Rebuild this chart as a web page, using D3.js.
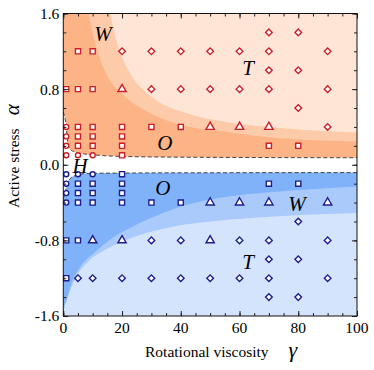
<!DOCTYPE html>
<html>
<head>
<meta charset="utf-8">
<script src="https://cdn.jsdelivr.net/npm/d3@7"></script>
<style>
  body { margin: 0; background: #fff; }
  svg { display: block; font-family: "Liberation Serif", "Times New Roman", serif; }
</style>
</head>
<body>
<div id="chart"></div>
<script>
// tick values
const gammaTicks = [0, 20, 40, 60, 80, 100];
const alphaTicks = [-1.6, -0.8, 0.0, 0.8, 1.6];

// phase boundaries as [gamma, alpha]
const upperDashed = [[0, 0.56], [0.4, 0.51], [1.0, 0.41], [1.3, 0.3], [1.6, 0.22], [2.5, 0.16], [4, 0.135],
  [7, 0.115], [12, 0.1], [20, 0.088], [40, 0.08], [70, 0.076], [100, 0.074]];
const lowerDashed = [[0, -0.36], [0.6, -0.3], [1.2, -0.22], [2, -0.16], [4, -0.115], [8, -0.092],
  [20, -0.088], [50, -0.085], [100, -0.083]];
const orangeMid = [[8.6, 1.6], [10, 1.39], [14.8, 0.95], [20, 0.75], [30, 0.54], [41.5, 0.41], [55, 0.35],
  [73.8, 0.28], [100, 0.247]];
const orangeLight = [[16, 1.6], [18, 1.32], [20, 1.14], [23, 0.956], [30, 0.72], [41.5, 0.55], [55, 0.455],
  [73.8, 0.388], [100, 0.34]];
const blueMid = [[0, -1.6], [0.7, -1.5], [2.4, -1.29], [5.8, -1.08], [10.9, -0.92], [16, -0.79], [24.5, -0.64],
  [36.4, -0.48], [53.4, -0.35], [70.4, -0.29], [87.4, -0.254], [100, -0.23]];
const blueLight = [[0, -1.6], [0.3, -1.52], [1.2, -1.43], [4.1, -1.2], [8.6, -1.02], [14.3, -0.9], [24.5, -0.76],
  [36.4, -0.66], [53.4, -0.59], [70.4, -0.55], [100, -0.51]];

// simulation points
const redSquares = [[5, 1.2], [10, 1.2], [1, 0.8], [5, 0.8], [10, 0.8], [5, 0.4], [10, 0.4], [20, 0.4], [30, 0.4],
  [40, 0.4], [5, 0.3], [10, 0.3], [20, 0.3], [5, 0.2], [10, 0.2], [20, 0.2], [70, 0.2], [80, 0.2], [20, 0.1]];
const redCircles = [[1, 0.4], [1, 0.3], [1, 0.2], [1, 0.1], [5, 0.1], [10, 0.1]];
const redTriangles = [[20, 0.8], [50, 0.4], [60, 0.4], [70, 0.4]];
const redDiamonds = [[70, 1.4], [80, 1.4], [20, 1.2], [30, 1.2], [40, 1.2], [50, 1.2], [60, 1.2], [70, 1.2], [90, 1.2],
  [70, 1.0], [80, 1.0], [30, 0.8], [40, 0.8], [50, 0.8], [60, 0.8], [70, 0.8], [90, 0.8], [80, 0.6], [90, 0.4]];
const blueCircles = [[1, -0.1], [5, -0.1], [10, -0.1], [1, -0.2], [1, -0.3], [1, -0.4]];
const blueSquares = [[20, -0.1], [5, -0.2], [10, -0.2], [20, -0.2], [70, -0.2], [80, -0.2], [5, -0.3], [10, -0.3],
  [20, -0.3], [5, -0.4], [10, -0.4], [20, -0.4], [30, -0.4], [40, -0.4], [1, -0.8], [5, -0.8], [1, -1.2]];
const blueTriangles = [[50, -0.4], [60, -0.4], [70, -0.4], [90, -0.4], [10, -0.8], [20, -0.8], [50, -0.8]];
const blueDiamonds = [[80, -0.6], [30, -0.8], [40, -0.8], [60, -0.8], [70, -0.8], [90, -0.8], [70, -1.0], [80, -1.0],
  [5, -1.2], [10, -1.2], [20, -1.2], [30, -1.2], [40, -1.2], [50, -1.2], [60, -1.2], [70, -1.2], [90, -1.2],
  [70, -1.4], [80, -1.4]];

// phase labels
const phaseNames = ["W", "T", "O", "H", "O", "W", "T"];
const phaseGamma = [13.5, 62.9, 34.6, 5.7, 33.9, 79.6, 62.9];
const phaseAlpha = [1.39, 1.024, 0.23, -0.013, -0.246, -0.415, -1.029];

const RED = "#cc1f2a", NAVY = "#1d1d8c";
const FILL = {
  oDark: "#fcb386", oMid: "#fdcba9", oLight: "#fee5d5",
  bDark: "#80b2fa", bMid: "#a9cafb", bLight: "#d4e4fc"
};

const margin = { top: 13.5, right: 17, bottom: 54, left: 63.3 };
const W = 374, H = 370;
const w = W - margin.left - margin.right;
const h = H - margin.top - margin.bottom;

const svg = d3.select("#chart").append("svg")
  .attr("width", W).attr("height", H);
const g = svg.append("g").attr("transform", `translate(${margin.left},${margin.top})`);

const x = d3.scaleLinear().domain([0, 100]).range([0, w]);
const y = d3.scaleLinear().domain([-1.6, 1.6]).range([h, 0]);

g.append("clipPath").attr("id", "clip")
  .append("rect").attr("width", w).attr("height", h);
const plot = g.append("g").attr("clip-path", "url(#clip)");

// filled regions
const areaTop = d3.area().curve(d3.curveMonotoneX)
  .x(d => x(d[0])).y0(d => y(d[1])).y1(y(1.6));
const areaBottom = d3.area().curve(d3.curveMonotoneX)
  .x(d => x(d[0])).y0(d => y(d[1])).y1(y(-1.6));

plot.append("path").datum(upperDashed).attr("fill", FILL.oDark).attr("d", areaTop);
plot.append("path").datum(orangeMid).attr("fill", FILL.oMid).attr("d", areaTop);
plot.append("path").datum(orangeLight).attr("fill", FILL.oLight).attr("d", areaTop);
plot.append("path").datum(lowerDashed).attr("fill", FILL.bDark).attr("d", areaBottom);
plot.append("path").datum(blueMid).attr("fill", FILL.bMid).attr("d", areaBottom);
plot.append("path").datum(blueLight).attr("fill", FILL.bLight).attr("d", areaBottom);

// dashed boundaries of the H region
const line = d3.line().curve(d3.curveMonotoneX).x(d => x(d[0])).y(d => y(d[1]));
[upperDashed, lowerDashed].forEach(pts => {
  plot.append("path").datum(pts)
    .attr("fill", "none").attr("stroke", "#444").attr("stroke-width", 1)
    .attr("stroke-dasharray", "4,2.5").attr("d", line);
});

// markers
const diamond = {
  draw(ctx, size) {
    const r = Math.sqrt(size / 2);
    ctx.moveTo(0, -r); ctx.lineTo(r, 0); ctx.lineTo(0, r); ctx.lineTo(-r, 0); ctx.closePath();
  }
};
const markerSets = [
  [redSquares, d3.symbolSquare, 26, RED], [redCircles, d3.symbolCircle, 20, RED],
  [redTriangles, d3.symbolTriangle, 30, RED], [redDiamonds, diamond, 22, RED],
  [blueSquares, d3.symbolSquare, 26, NAVY], [blueCircles, d3.symbolCircle, 20, NAVY],
  [blueTriangles, d3.symbolTriangle, 30, NAVY], [blueDiamonds, diamond, 22, NAVY]
];
markerSets.forEach(([pts, type, size, color]) => {
  g.append("g").selectAll("path").data(pts).join("path")
    .attr("transform", d => `translate(${x(d[0])},${y(d[1])})`)
    .attr("d", d3.symbol().type(type).size(size))
    .attr("fill", "#fff").attr("stroke", color).attr("stroke-width", 1.4);
});

// phase labels
g.append("g").selectAll("text").data(phaseNames).join("text")
  .attr("x", (d, i) => x(phaseGamma[i])).attr("y", (d, i) => y(phaseAlpha[i]))
  .attr("dy", "0.35em").attr("text-anchor", "middle")
  .attr("font-style", "italic").attr("font-size", 21).text(d => d);

// frame with inward ticks on all sides
const minorX = d3.range(0, 101, 5), minorY = d3.range(-16, 17, 2).map(v => v / 10);
const axes = [
  [d3.axisBottom(x), `translate(0,${h})`, minorX, gammaTicks],
  [d3.axisTop(x), "translate(0,0)", minorX, gammaTicks],
  [d3.axisLeft(y), "translate(0,0)", minorY, alphaTicks],
  [d3.axisRight(y), `translate(${w},0)`, minorY, alphaTicks]
];
axes.forEach(([ax, tr, minor, major]) => {
  const a = g.append("g").attr("transform", tr);
  a.call(ax.tickValues(minor).tickSize(-3).tickFormat(""));
  a.append("g").call(ax.tickValues(major).tickSize(-5).tickFormat(""));
  a.selectAll(".domain").remove();
  a.selectAll("line").attr("stroke", "#222");
});
g.append("rect").attr("width", w).attr("height", h)
  .attr("fill", "none").attr("stroke", "#111").attr("stroke-width", 1);

// tick labels
g.append("g").selectAll("text").data(gammaTicks).join("text")
  .attr("x", d => x(d)).attr("y", h + 17)
  .attr("text-anchor", "middle").attr("font-size", 15.5).text(d => d);
g.append("g").selectAll("text").data(alphaTicks).join("text")
  .attr("x", -4).attr("y", d => y(d)).attr("dy", "0.35em")
  .attr("text-anchor", "end").attr("font-size", 15.5).text(d => d.toFixed(1));

// axis titles
const yTitle = svg.append("text")
  .attr("transform", "translate(18.5,208) rotate(-90)").attr("font-size", 15.5);
yTitle.append("tspan").text("Active stress");
yTitle.append("tspan").attr("dx", 13).attr("font-style", "italic").attr("font-size", 21).text("α");

const xTitle = svg.append("text").attr("x", 145).attr("y", 356.5).attr("font-size", 15.5);
xTitle.append("tspan").text("Rotational viscosity");
xTitle.append("tspan").attr("dx", 20).attr("font-style", "italic").attr("font-size", 22).text("γ");
</script>
</body>
</html>
